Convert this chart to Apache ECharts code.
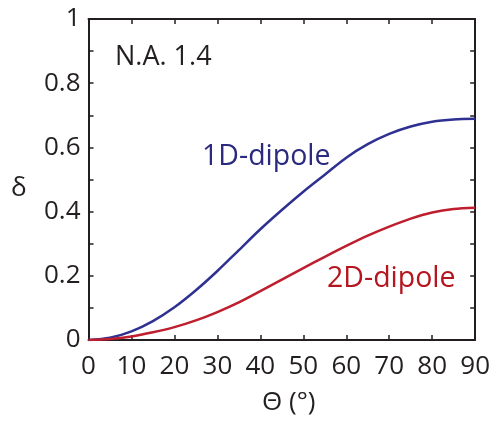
<!DOCTYPE html>
<html>
<head>
<meta charset="utf-8">
<script src="https://cdn.jsdelivr.net/npm/echarts@6/dist/echarts.min.js"></script>
<style>
html,body{margin:0;padding:0;background:#fff;}
#chart{width:493px;height:421px;}
</style>
</head>
<body>
<div id="chart"></div>
<script>
var thetaDeg = [0, 5, 10, 15, 20, 25, 30, 35, 40, 45, 50, 55, 60, 65, 70, 75, 80, 85, 90];
var delta1D = [0, 0.007, 0.027, 0.059, 0.102, 0.155, 0.215, 0.28, 0.345, 0.405, 0.462, 0.515, 0.568, 0.61, 0.642, 0.665, 0.68, 0.687, 0.689];
var delta2D = [0, 0.003, 0.011, 0.024, 0.04, 0.061, 0.087, 0.117, 0.152, 0.188, 0.224, 0.259, 0.293, 0.325, 0.353, 0.378, 0.397, 0.408, 0.412];
var xTicks = {min: 0, max: 90, step: 10};
var yTicks = {min: 0, max: 1, step: 0.2};
var seriesNames = ['1D-dipole', '2D-dipole'];
var annotationText = 'N.A. 1.4';
var xName = 'Θ (°)';
var yName = 'δ';

var FONT = 'Open Sans';
var AX = '#231f20';
var BLUE = '#2e3192';
var RED = '#be1e2d';

function pairs(xs, ys) { return xs.map(function (x, i) { return [x, ys[i]]; }); }

var chart = echarts.init(document.getElementById('chart'), null, {renderer: 'canvas'});
var axisLineStyle = {show: true, onZero: false, lineStyle: {color: AX, width: 2}};
var tickStyle = {show: true, inside: true, length: 5, lineStyle: {color: AX, width: 1.5}};
var minorStyle = {show: true, splitNumber: 2, length: 5, lineStyle: {color: AX, width: 1.5}};
var option = {
  animation: false,
  backgroundColor: '#fff',
  grid: {left: 88.5, right: 15, top: 19, bottom: 78, containLabel: false},
  xAxis: [{
    type: 'value', min: xTicks.min, max: xTicks.max, interval: xTicks.step, position: 'bottom',
    name: xName, nameLocation: 'middle', nameGap: 50,
    nameTextStyle: {fontFamily: FONT, fontSize: 26, color: AX, padding: [0, 0, 0, 14]},
    axisLine: axisLineStyle, axisTick: tickStyle,
    axisLabel: {fontFamily: FONT, fontSize: 26, color: AX, margin: 14},
    splitLine: {show: false}
  }, {
    type: 'value', min: xTicks.min, max: xTicks.max, interval: xTicks.step, position: 'top',
    axisLine: axisLineStyle, axisTick: tickStyle,
    axisLabel: {show: false}, splitLine: {show: false}
  }],
  yAxis: [{
    type: 'value', min: yTicks.min, max: yTicks.max, interval: yTicks.step, position: 'left',
    axisLine: axisLineStyle, axisTick: tickStyle, minorTick: minorStyle,
    axisLabel: {fontFamily: FONT, fontSize: 26, color: AX, margin: 8},
    splitLine: {show: false}
  }, {
    type: 'value', min: yTicks.min, max: yTicks.max, interval: yTicks.step, position: 'right',
    axisLine: axisLineStyle, axisTick: tickStyle, minorTick: minorStyle,
    axisLabel: {show: false}, splitLine: {show: false}
  }],
  series: [{
    name: seriesNames[0], type: 'line', xAxisIndex: 0, yAxisIndex: 0,
    data: pairs(thetaDeg, delta1D), showSymbol: false, smooth: 0.3,
    lineStyle: {color: BLUE, width: 2.5}, itemStyle: {color: BLUE}
  }, {
    name: seriesNames[1], type: 'line', xAxisIndex: 0, yAxisIndex: 0,
    data: pairs(thetaDeg, delta2D), showSymbol: false, smooth: 0.3,
    lineStyle: {color: RED, width: 2.5}, itemStyle: {color: RED}
  }],
  graphic: [
    {type: 'text', left: 115, top: 44, style: {text: annotationText, font: '27px "Open Sans"', fill: AX}},
    {type: 'text', left: 202, top: 142, style: {text: seriesNames[0], font: '28.5px "Open Sans"', fill: '#2b2a7e'}},
    {type: 'text', left: 327, top: 264, style: {text: seriesNames[1], font: '28.5px "Open Sans"', fill: '#b5151f'}},
    {type: 'text', left: 11, top: 176, style: {text: yName, font: '26px "Open Sans"', fill: AX}}
  ]
};
chart.setOption(option);
</script>
</body>
</html>
